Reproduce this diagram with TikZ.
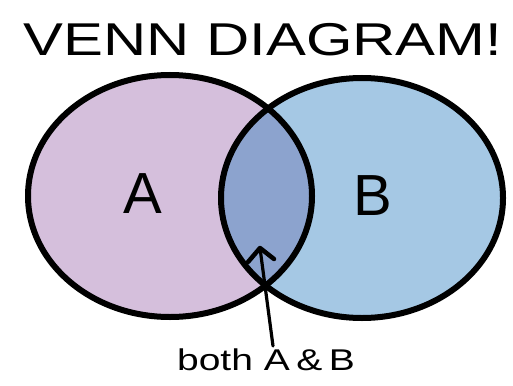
\documentclass[tikz,border=0pt]{standalone}
\usepackage{fontspec}
\setmainfont{Liberation Sans}
\usetikzlibrary{arrows.meta}
\definecolor{setA}{HTML}{D5BFDC}
\definecolor{setB}{HTML}{A5C8E4}
\definecolor{setAB}{HTML}{8CA3CE}
\tikzset{
  outline/.style={line width=6pt, draw=black},
  biglabel/.style={font=\fontsize{58}{60}\selectfont, inner sep=0pt},
  pointer/.style={line width=3.2pt, line cap=round},
  barb/.style={line width=4.5pt, line cap=round, line join=round}
}
\begin{document}
\begin{tikzpicture}[x=1pt,y=-1pt]
\useasboundingbox (0,0) rectangle (513,385);
% fills
\fill[setA] (170,196) ellipse [x radius=142, y radius=121];
\fill[setB] (362,198) ellipse [x radius=141, y radius=120];
\begin{scope}
  \clip (170,196) ellipse [x radius=142, y radius=121];
  \fill[setAB] (362,198) ellipse [x radius=141, y radius=120];
\end{scope}
% outlines
\draw[outline] (170,196) ellipse [x radius=142, y radius=121];
\draw[outline] (362,198) ellipse [x radius=141, y radius=120];
% labels
\node[biglabel] (title) at (263,40) {\scalebox{1.3}[1]{\fontsize{46}{48}\selectfont VENN DIAGRAM!}};
\node[biglabel] (a) at (143,194) {A};
\node[biglabel] (b) at (373,196) {B};
\node[inner sep=0pt, anchor=north] (both) at (266,349) {\scalebox{1.3}[1]{\fontsize{30}{32}\selectfont both A\,\&\,B}};
\coordinate (tip) at (260,248);
\draw[pointer] (both.north -| 273,0) ++(0,-3) coordinate (tail) (tail) -- (tip);
\draw[barb] ([shift={(-12,14)}]tip) -- (tip) -- ([shift={(14,11)}]tip);
\end{tikzpicture}
\end{document}
